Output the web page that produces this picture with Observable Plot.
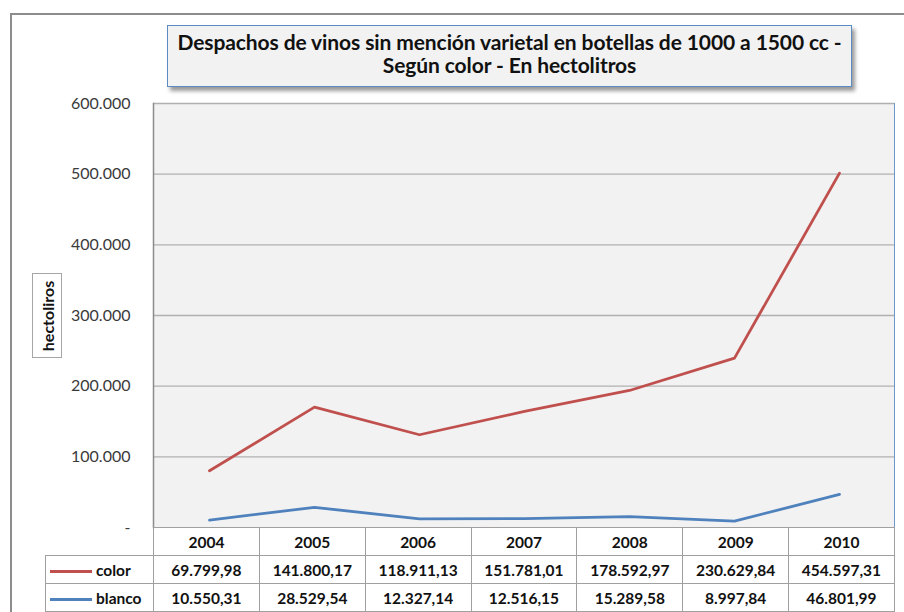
<!DOCTYPE html>
<html>
<head>
<meta charset="utf-8">
<script src="https://cdn.jsdelivr.net/npm/d3@7"></script>
<script src="https://cdn.jsdelivr.net/npm/@observablehq/plot@0.6"></script>
<style>
  html, body { margin: 0; padding: 0; background: #fff; }
  body { width: 904px; height: 612px; position: relative; overflow: hidden; font-family: Lato, "Open Sans", sans-serif; }
  #frame { position: absolute; left: 10px; top: 13px; width: 900px; height: 610px; border-left: 2px solid #8c8c8c; border-top: 2px solid #8c8c8c; }
  #chart { position: absolute; left: 0; top: 0; }
  #title { position: absolute; left: 167px; top: 25px; width: 683px; height: 56px; background: #f2f2f2; border: 1.5px solid #5b8ac5; box-shadow: 3px 4px 4px rgba(0,0,0,0.4); text-align: center; font-weight: bold; font-size: 21px; line-height: 23px; padding-top: 4px; box-sizing: content-box; color: #111; letter-spacing: -0.1px; }
  #ylabel { position: absolute; left: 32px; top: 273px; width: 30px; height: 85px; background: #fff; border: 1px solid #a6a6a6; box-sizing: border-box; }
  #ylabel span { position: absolute; left: 50%; top: 50%; transform: translate(-50%, -50%) rotate(-90deg); font-weight: bold; font-size: 16px; white-space: nowrap; color: #111; }
  #tbl { position: absolute; left: 45px; top: 527px; border-collapse: collapse; table-layout: fixed; font-weight: bold; font-size: 15.5px; color: #111; }
  #tbl td { border: 1px solid #a0a0a0; text-align: center; padding: 0; height: 27px; }
  #tbl td.empty { border: none; border-right: 1px solid #a0a0a0; }
  #tbl td.leg { text-align: left; white-space: nowrap; }
  #tbl td.leg i { display: inline-block; width: 42px; height: 3px; vertical-align: middle; margin: 0 4px 0 4px; }
</style>
</head>
<body>
<div id="frame"></div>
<div id="chart"></div>
<div id="title">Despachos de vinos sin mención varietal en botellas de 1000 a 1500 cc -<br>Según color - En hectolitros</div>
<div id="ylabel"><span>hectoliros</span></div>
<table id="tbl"></table>
<script>
const years = ["2004", "2005", "2006", "2007", "2008", "2009", "2010"];
const series = ["color", "blanco"];
const colorValues  = [69799.98, 141800.17, 118911.13, 151781.01, 178592.97, 230629.84, 454597.31];
const blancoValues = [10550.31, 28529.54, 12327.14, 12516.15, 15289.58, 8997.84, 46801.99];
const yTicks = [0, 100000, 200000, 300000, 400000, 500000, 600000];
const seriesColors = ["#c0504d", "#4f81bd"];

const es = d3.formatLocale({decimal: ",", thousands: ".", grouping: [3], currency: ["", ""]});
const fmtInt = es.format(",.0f");
const fmt2 = es.format(",.2f");

// Long table: blanco first so that it is stacked at the bottom (stacked line chart)
const data = [];
years.forEach((yr, i) => {
  data.push({year: yr, series: "blanco", value: blancoValues[i]});
  data.push({year: yr, series: "color", value: colorValues[i]});
});

const W = 904, H = 612, ML = 153, MR = 10, MT = 103, MB = 85;

const chart = Plot.plot({
  width: W,
  height: H,
  marginLeft: ML,
  marginRight: MR,
  marginTop: MT,
  marginBottom: MB,
  style: {fontFamily: "Lato, 'Open Sans', sans-serif", background: "transparent"},
  x: {type: "point", domain: years, padding: 0.5, axis: null},
  y: {domain: [0, 600000], axis: null},
  color: {domain: series, range: seriesColors},
  marks: [
    Plot.frame({fill: "#f2f2f2", stroke: "#6f97c9", strokeWidth: 1}),
    Plot.gridY(yTicks.filter(d => d > 0), {stroke: "#b0b0b0", strokeOpacity: 1, strokeWidth: 1.4}),
    Plot.axisY(yTicks, {
      tickSize: 0, tickPadding: 23, fontSize: 16, fill: "#3a3a3a",
      tickFormat: d => d === 0 ? "-" : fmtInt(d), label: null
    }),
    Plot.frame({anchor: "left", stroke: "#8c8c8c", strokeWidth: 1.5}),
    Plot.lineY(data, Plot.stackY2({
      x: "year", y: "value", z: "series", stroke: "series",
      order: ["blanco", "color"], strokeWidth: 2.8, curve: "linear"
    }))
  ]
});
document.getElementById("chart").appendChild(chart);

// Data table below the chart (columns aligned with the x scale bands)
const colW = (W - ML - MR) / years.length;
const tbl = d3.select("#tbl");
const cg = tbl.append("colgroup");
cg.append("col").style("width", (ML - 45) + "px");
years.forEach(() => cg.append("col").style("width", colW + "px"));
const head = tbl.append("tr");
head.append("td").attr("class", "empty");
years.forEach(y => head.append("td").text(y));
[["color", colorValues, seriesColors[0]], ["blanco", blancoValues, seriesColors[1]]].forEach(([name, vals, col]) => {
  const tr = tbl.append("tr");
  const leg = tr.append("td").attr("class", "leg");
  leg.append("i").style("background", col);
  leg.append("span").text(name);
  vals.forEach(v => tr.append("td").text(fmt2(v)));
});
</script>
</body>
</html>
